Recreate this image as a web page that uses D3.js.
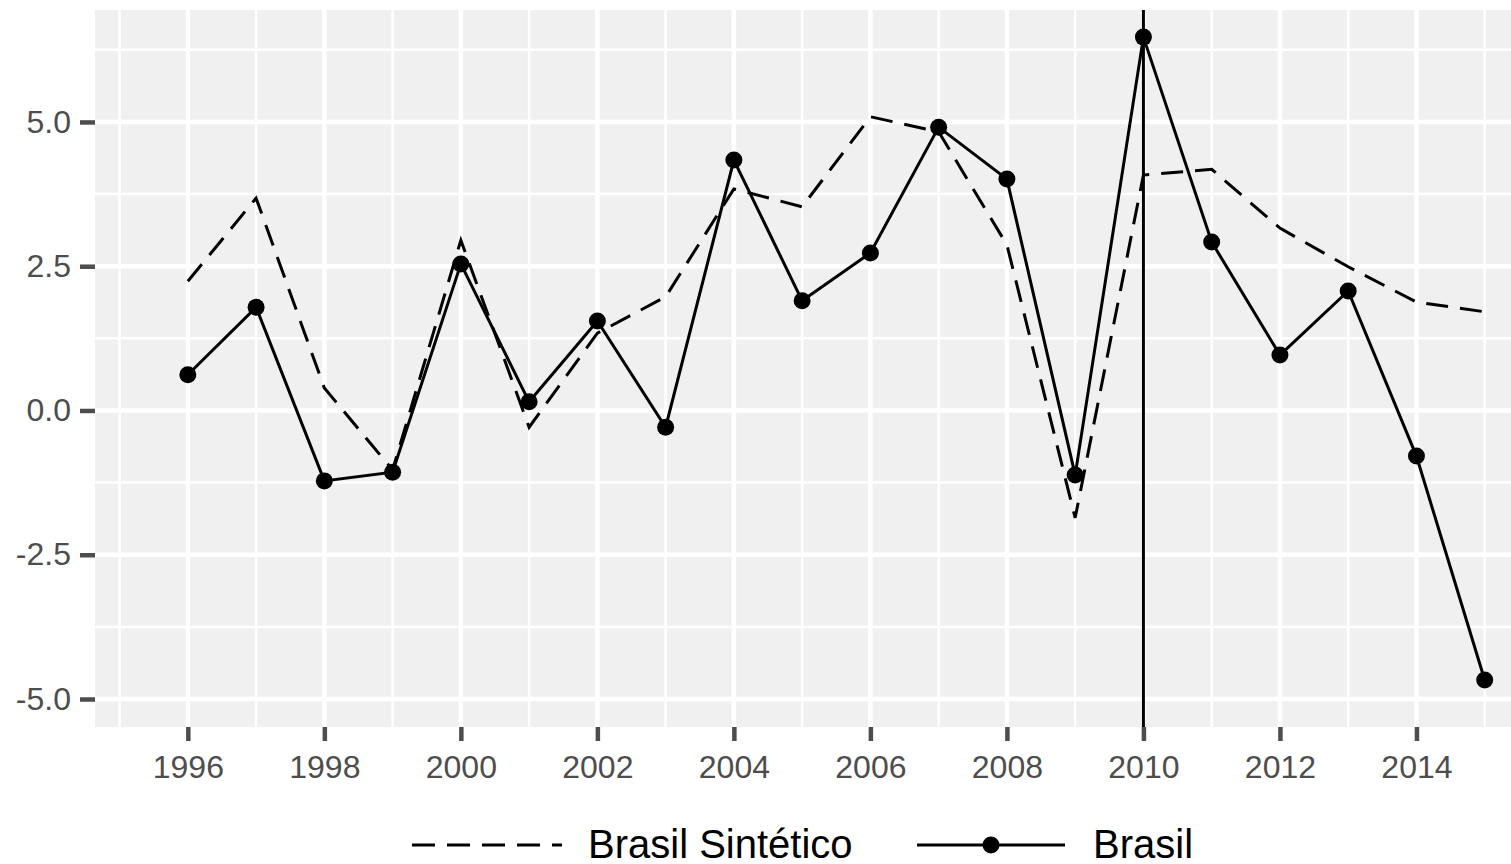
<!DOCTYPE html>
<html><head><meta charset="utf-8">
<script src="https://cdn.jsdelivr.net/npm/d3@7"></script>
<style>body{margin:0;background:#fff;}svg{display:block;font-family:"Liberation Sans",Arial,sans-serif;}</style>
</head><body>
<svg id="c" width="1511" height="864"></svg>
<script>
const years = [1996,1997,1998,1999,2000,2001,2002,2003,2004,2005,2006,2007,2008,2009,2010,2011,2012,2013,2014,2015];
const brasil = [0.62,1.79,-1.22,-1.07,2.54,0.15,1.55,-0.29,4.34,1.90,2.73,4.91,4.01,-1.12,6.47,2.92,0.96,2.07,-0.79,-4.67];
const sintetico = [2.24,3.68,0.39,-1.03,2.95,-0.29,1.34,1.97,3.84,3.53,5.09,4.83,2.87,-1.86,4.08,4.18,3.16,2.49,1.88,1.71];
const xTicks = [1996,1998,2000,2002,2004,2006,2008,2010,2012,2014];
const xMinor = [1995,1997,1999,2001,2003,2005,2007,2009,2011,2013,2015];
const yTicks = [-5.0,-2.5,0.0,2.5,5.0];
const yMinor = [-3.75,-1.25,1.25,3.75,6.25];
const treatYear = 2010;
const seriesNames = ["Brasil Sintético","Brasil"];

const svg = d3.select("#c");
const L=95, R=1512, T=10, B=727;
const x = d3.scaleLinear().domain([1994.64,2015.40]).range([L,R]);
const y = d3.scaleLinear().domain([-5.485,6.94]).range([B,T]);

svg.append("rect").attr("x",L).attr("y",T).attr("width",R-L).attr("height",B-T).attr("fill","#f0f0f0");
const g = svg.append("g");
g.selectAll(".xm").data(xMinor).join("line").attr("x1",d=>x(d)).attr("x2",d=>x(d)).attr("y1",T).attr("y2",B).attr("stroke","#fff").attr("stroke-width",2.5);
g.selectAll(".ym").data(yMinor).join("line").attr("y1",d=>y(d)).attr("y2",d=>y(d)).attr("x1",L).attr("x2",R).attr("stroke","#fff").attr("stroke-width",2.5);
g.selectAll(".xM").data(xTicks).join("line").attr("x1",d=>x(d)).attr("x2",d=>x(d)).attr("y1",T).attr("y2",B).attr("stroke","#fff").attr("stroke-width",4.5);
g.selectAll(".yM").data(yTicks).join("line").attr("y1",d=>y(d)).attr("y2",d=>y(d)).attr("x1",L).attr("x2",R).attr("stroke","#fff").attr("stroke-width",4.5);

// axes
const xAxis = d3.axisBottom(x).tickValues(xTicks).tickFormat(d3.format("d")).tickSize(14).tickPadding(14);
const xg = svg.append("g").attr("transform",`translate(0,${B})`).call(xAxis);
xg.select(".domain").remove();
xg.selectAll("line").attr("stroke","#4d4d4d").attr("stroke-width",4.5);
xg.selectAll("text").attr("fill","#4d4d4d").style("font-size","32px").attr("dy","0.71em");

const fmtY = d => d3.format(".1f")(d).replace("\u2212","-");
const yAxis = d3.axisLeft(y).tickValues(yTicks).tickFormat(fmtY).tickSize(15).tickPadding(9);
const yg = svg.append("g").attr("transform",`translate(${L},0)`).call(yAxis);
yg.select(".domain").remove();
yg.selectAll("line").attr("stroke","#4d4d4d").attr("stroke-width",4.5);
yg.selectAll("text").attr("fill","#4d4d4d").style("font-size","32px");

svg.append("clipPath").attr("id","pc").append("rect").attr("x",L).attr("y",T).attr("width",R-L).attr("height",B-T);
const pg = svg.append("g").attr("clip-path","url(#pc)");

const line = d3.line().x(d=>x(d[0])).y(d=>y(d[1]));
pg.append("path").datum(years.map((d,i)=>[d,sintetico[i]])).attr("d",line).attr("fill","none").attr("stroke","#000").attr("stroke-width",3).attr("stroke-dasharray","22,12");
pg.append("path").datum(years.map((d,i)=>[d,brasil[i]])).attr("d",line).attr("fill","none").attr("stroke","#000").attr("stroke-width",3);
pg.append("line").attr("x1",x(treatYear)).attr("x2",x(treatYear)).attr("y1",T).attr("y2",B).attr("stroke","#000").attr("stroke-width",3);
pg.selectAll("circle").data(years.map((d,i)=>[d,brasil[i]])).join("circle").attr("cx",d=>x(d[0])).attr("cy",d=>y(d[1])).attr("r",8.5).attr("fill","#000");

// legend
const lg = svg.append("g");
const ly = 845;
lg.append("line").attr("x1",412).attr("x2",562).attr("y1",ly).attr("y2",ly).attr("stroke","#000").attr("stroke-width",3).attr("stroke-dasharray","23,12");
lg.append("text").attr("x",588).attr("y",858).text(seriesNames[0]).style("font-size","40px").attr("fill","#000");
lg.append("line").attr("x1",917).attr("x2",1065).attr("y1",ly).attr("y2",ly).attr("stroke","#000").attr("stroke-width",3);
lg.append("circle").attr("cx",991).attr("cy",ly).attr("r",8.5).attr("fill","#000");
lg.append("text").attr("x",1093).attr("y",858).text(seriesNames[1]).style("font-size","40px").attr("fill","#000");
</script>
</body></html>
